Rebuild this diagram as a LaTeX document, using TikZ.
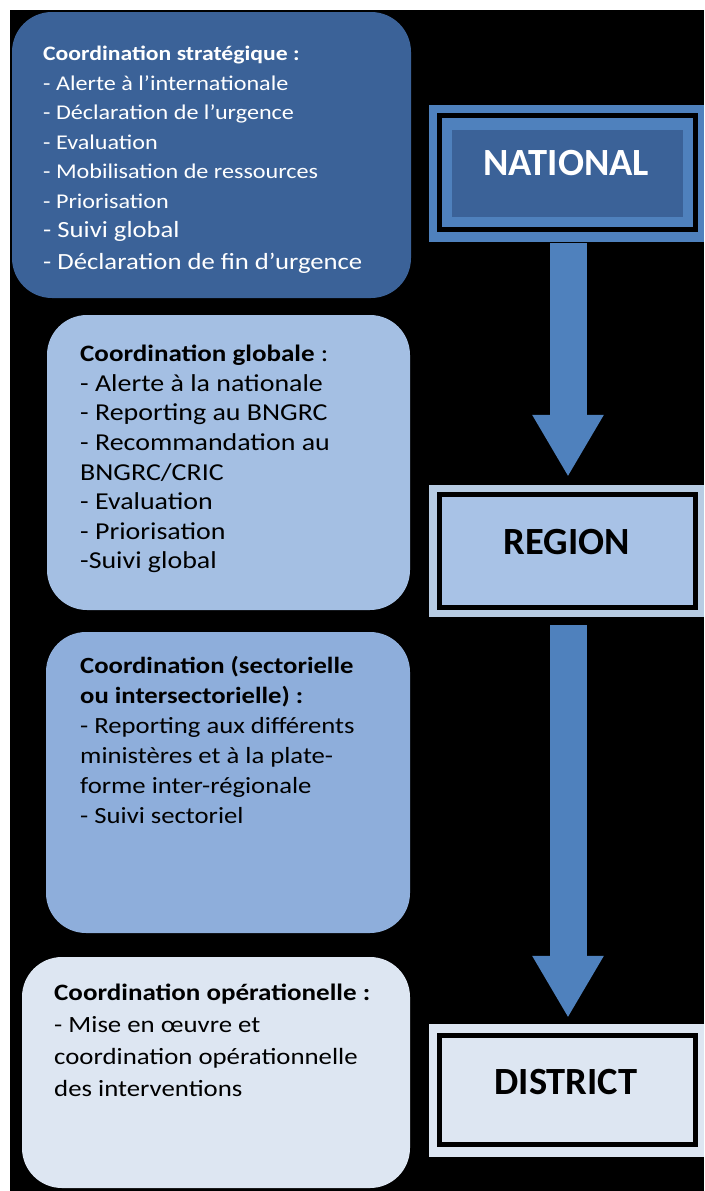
\documentclass[tikz,border=0pt]{standalone}
\usepackage{fontspec}
\setmainfont{Carlito}[FakeStretch=1.15]
\newfontfamily\headfont{Carlito}
\usetikzlibrary{arrows.meta}
\definecolor{boxA}{HTML}{3B6298}
\definecolor{boxB}{HTML}{A4BFE3}
\definecolor{boxC}{HTML}{8EAEDB}
\definecolor{boxD}{HTML}{DDE6F2}
\definecolor{natband}{HTML}{4F81BD}
\definecolor{natfill}{HTML}{3B6298}
\definecolor{regband}{HTML}{B7CCE3}
\definecolor{regfill}{HTML}{A8C2E6}
\definecolor{arrowblue}{HTML}{4F81BD}
\tikzset{
  lbox/.style={rectangle, rounded corners=40pt, inner sep=0pt, draw=none},
  txt/.style={anchor=north west, inner sep=0pt, align=left},
  frame/.style={rectangle, inner sep=0pt, minimum width=275pt, draw=none},
  blackline/.style={draw=black, line width=5pt},
  head/.style={inner sep=0pt, font=\headfont\bfseries\fontsize{38.5}{40}\selectfont},
  flowarrow/.style={draw=arrowblue, line width=37pt, -{Triangle[width=67pt,length=62pt]}}
}
\begin{document}
\begin{tikzpicture}[x=1pt,y=1pt]
\useasboundingbox (0,0) rectangle (704,-1191);
\fill[white] (0,0) rectangle (704,-1191);
\fill[black] (10,-10) rectangle (704,-1191);

% left boxes
\node[lbox, fill=boxA, minimum width=399pt, minimum height=286pt] (b1) at (211.5,-155) {};
\node[lbox, fill=boxB, minimum width=363pt, minimum height=295pt] (b2) at (228.5,-462.5) {};
\node[lbox, fill=boxC, minimum width=364pt, minimum height=301pt] (b3) at (228,-782.5) {};
\node[lbox, fill=boxD, minimum width=388pt, minimum height=231pt] (b4) at (216,-1072.5) {};

\node[txt, text=white, font=\fontsize{21}{29.5}\selectfont] (t1) at (43,-46) {%
{\fontsize{20.6}{29.5}\selectfont\bfseries Coordination stratégique :}\\
- Alerte à l’internationale\\
- Déclaration de l’urgence\\
- Evaluation\\
- Mobilisation de ressources\\
- Priorisation\\
{\fontsize{23.2}{29.5}\selectfont - Suivi global}\\[2pt]
{\fontsize{23.2}{29.5}\selectfont - Déclaration de fin d’urgence}};

\node[txt, text=black, font=\fontsize{24.3}{29.6}\selectfont] (t2) at (80,-345) {%
{\fontsize{23.5}{29.6}\selectfont\bfseries Coordination globale} :\\
- Alerte à la nationale\\
- Reporting au BNGRC\\
- Recommandation au\\
BNGRC/CRIC\\
- Evaluation\\
- Priorisation\\
-Suivi global};

\node[txt, text=black, font=\fontsize{23.2}{30}\selectfont] (t3) at (80,-656) {%
{\bfseries Coordination (sectorielle}\\
{\bfseries ou intersectorielle) :}\\
- Reporting aux différents\\
ministères et à la plate-\\
forme inter-régionale\\
- Suivi sectoriel};

\node[txt, text=black, font=\fontsize{23.3}{32}\selectfont] (t4) at (54,-984) {%
{\fontsize{23.5}{32}\selectfont\bfseries Coordination opérationelle :}\\
- Mise en œuvre et\\
coordination opérationnelle\\
des interventions};

% NATIONAL
\node[frame, fill=natband, minimum height=137pt] (nat) at (566.5,-173.5) {};
\draw[blackline] (439.5,-115.5) rectangle (695.5,-229.5);
\fill[natfill] (452,-130) rectangle (683,-217);
\node[head, text=white] (natT) at (566,-163) {NATIONAL};

% REGION
\node[frame, fill=regband, minimum height=132pt] (reg) at (566.5,-551) {};
\draw[blackline, fill=regfill] (439.5,-494.5) rectangle (695.5,-607.5);
\node[head, text=black] (regT) at (567,-542) {REGION};

% DISTRICT
\node[frame, fill=boxD, minimum height=133pt] (dis) at (566.5,-1090.5) {};
\draw[blackline, fill=boxD] (439.5,-1035.5) rectangle (695.5,-1144.5);
\node[head, text=black] (disT) at (566,-1082) {DISTRICT};

% arrows
\draw[flowarrow, shorten <=1pt, shorten >=8pt] ([xshift=1.5pt]nat.south) -- ([xshift=1.5pt]reg.north);
\draw[flowarrow, shorten <=8pt, shorten >=6pt] ([xshift=1.5pt]reg.south) -- ([xshift=1.5pt]dis.north);
\end{tikzpicture}
\end{document}
